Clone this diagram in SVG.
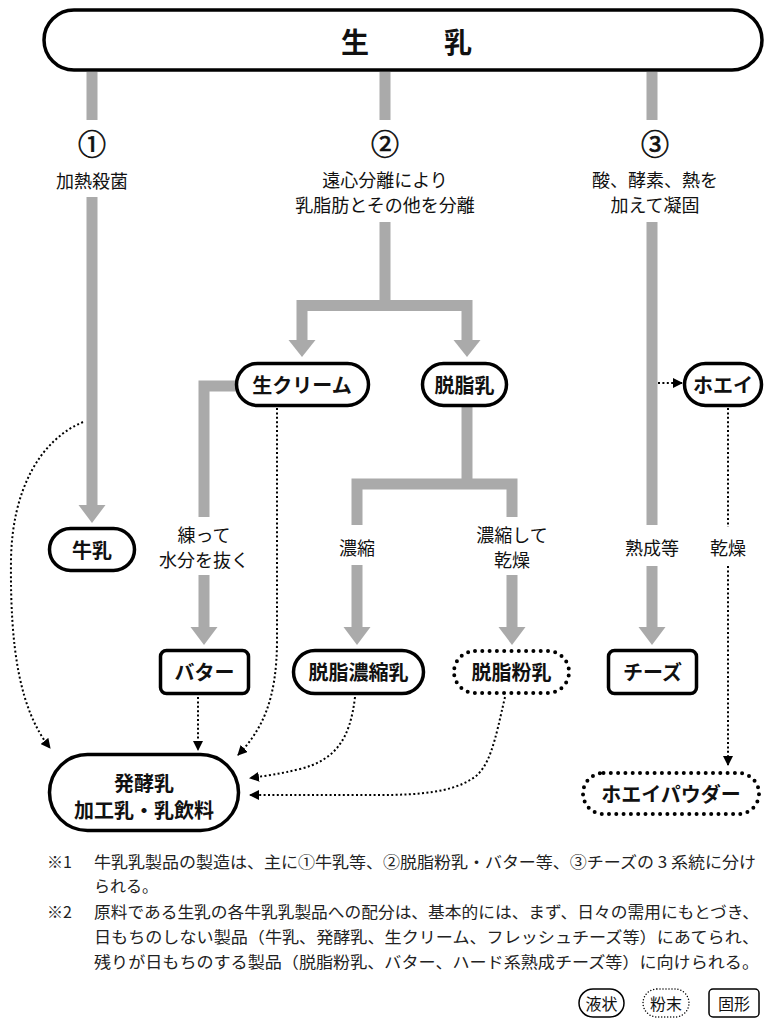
<svg xmlns="http://www.w3.org/2000/svg" width="769" height="1019" viewBox="0 0 769 1019">
<style>
text{font-family:"Noto Sans CJK JP","Noto Sans CJK SC",sans-serif;fill:#111;text-anchor:middle;dominant-baseline:central}
.lbl{font-size:18px}
.num{font-size:28px;stroke:#111;stroke-width:0.7}
.nt{font-size:20px;font-weight:bold}
.gray{fill:none;stroke:#aaaaaa;stroke-width:11;stroke-linecap:butt;stroke-linejoin:miter}
.gh{fill:#aaaaaa}
.node{fill:#fff;stroke:#000;stroke-width:3.5}
.dnode{fill:#fff;stroke:#000;stroke-width:4;stroke-dasharray:0 7.3;stroke-linecap:round}
.dot{fill:none;stroke:#000;stroke-width:2;stroke-dasharray:2 2.4}
.fn{font-size:16px;text-anchor:start;fill:#222}
.lg{font-size:16px}
</style>
<defs>
<marker id="ah" viewBox="0 0 10 10" refX="9" refY="5" markerWidth="10" markerHeight="10" markerUnits="userSpaceOnUse" orient="auto">
<path d="M0,0 L10,5 L0,10 Z" fill="#000"/>
</marker>
</defs>

<g id="connectors">
<path class="gray" d="M92,72 V120 M92,197 V506"/>
<polygon class="gh" points="78.5,505 105.5,505 92,523"/>
<path class="gray" d="M385,72 V120 M385,222 V305"/>
<path class="gray" d="M302,341 V305.5 H467 V341"/>
<polygon class="gh" points="288.5,340 315.5,340 302,357"/>
<polygon class="gh" points="453.5,340 480.5,340 467,357"/>
<path class="gray" d="M652,72 V120 M652,222 V525 M652,566 V628"/>
<polygon class="gh" points="638.5,627 665.5,627 652,645"/>
<path class="gray" d="M240,386 H204 V517 M204,575 V628"/>
<polygon class="gh" points="190.5,627 217.5,627 204,645"/>
<path class="gray" d="M467,405 V484"/>
<path class="gray" d="M357,525 V484 H512 V517"/>
<path class="gray" d="M357,565 V628 M512,575 V628"/>
<polygon class="gh" points="343.5,627 370.5,627 357,645"/>
<polygon class="gh" points="498.5,627 525.5,627 512,645"/>

<path class="dot" d="M83,422 C40,440 12,490 11,560 C10,650 20,710 50,748" marker-end="url(#ah)"/>
<path class="dot" d="M277,408 L277,640 C277,700 262,730 238,755" marker-end="url(#ah)"/>
<path class="dot" d="M198,697 L198,750" marker-end="url(#ah)"/>
<path class="dot" d="M355,697 C350,740 335,760 300,769 C280,774 265,776 250,778" marker-end="url(#ah)"/>
<path class="dot" d="M505,697 C495,740 490,770 470,780 C450,792 420,795 380,795 L250,795" marker-end="url(#ah)"/>
<path class="dot" d="M658,383 L682,383" marker-end="url(#ah)"/>
<path class="dot" d="M728,408 V527"/>
<path class="dot" d="M728,566 V765" marker-end="url(#ah)"/>
</g>

<g id="n-raw">
<rect class="node" x="44" y="10" width="718" height="60" rx="30" stroke-width="5"/>
<text font-size="28" font-weight="bold"><tspan x="355" y="41">生</tspan><tspan x="458" y="41">乳</tspan></text>
</g>

<g id="labels">
<text class="num" x="92" y="143">①</text>
<text class="lbl" x="92" y="180">加熱殺菌</text>
<text class="num" x="385" y="143">②</text>
<text class="lbl" x="385" y="179">遠心分離により</text>
<text class="lbl" x="385" y="204">乳脂肪とその他を分離</text>
<text class="num" x="655" y="143">③</text>
<text class="lbl" x="655" y="179">酸、酵素、熱を</text>
<text class="lbl" x="655" y="204">加えて凝固</text>
<text class="lbl" x="204" y="534">練って</text>
<text class="lbl" x="204" y="559">水分を抜く</text>
<text class="lbl" x="357" y="547">濃縮</text>
<text class="lbl" x="512" y="534">濃縮して</text>
<text class="lbl" x="512" y="559">乾燥</text>
<text class="lbl" x="652" y="547">熟成等</text>
<text class="lbl" x="728" y="547">乾燥</text>
</g>

<g id="n-gyunyu"><rect class="node" x="49.5" y="528.5" width="85" height="42" rx="21"/><text class="nt" x="92" y="549">牛乳</text></g>
<g id="n-cream"><rect class="node" x="236.5" y="363.5" width="132" height="42" rx="21"/><text class="nt" x="302" y="384">生クリーム</text></g>
<g id="n-dasshi"><rect class="node" x="422.5" y="363.5" width="84" height="42" rx="21"/><text class="nt" x="464.5" y="384">脱脂乳</text></g>
<g id="n-whey"><rect class="node" x="684.5" y="363.5" width="77" height="42" rx="21"/><text class="nt" x="723" y="384">ホエイ</text></g>
<g id="n-butter"><rect class="node" x="160.5" y="650.5" width="88" height="43" rx="6"/><text class="nt" x="204.5" y="671">バター</text></g>
<g id="n-condensed"><rect class="node" x="293.5" y="650.5" width="130" height="43" rx="21.5"/><text class="nt" x="358.5" y="671">脱脂濃縮乳</text></g>
<g id="n-powder"><rect class="dnode" x="454" y="651" width="115" height="42" rx="21"/><text class="nt" x="511.5" y="671">脱脂粉乳</text></g>
<g id="n-cheese"><rect class="node" x="608.5" y="650.5" width="88" height="43" rx="6"/><text class="nt" x="652.5" y="671">チーズ</text></g>
<g id="n-ferm"><rect class="node" x="49.5" y="754.5" width="189" height="76" rx="38"/><text class="nt" x="144" y="782">発酵乳</text><text class="nt" x="144" y="809">加工乳・乳飲料</text></g>
<g id="n-wheypowder"><rect class="dnode" x="583" y="773" width="176" height="41" rx="20.5"/><text class="nt" x="671" y="793">ホエイパウダー</text></g>

<g id="notes">
<text class="fn" x="47" y="861">※1</text>
<text class="fn" x="94" y="861" textLength="662" lengthAdjust="spacingAndGlyphs">牛乳乳製品の製造は、主に①牛乳等、②脱脂粉乳・バター等、③チーズの 3 系統に分け</text>
<text class="fn" x="94" y="885">られる。</text>
<text class="fn" x="47" y="911">※2</text>
<text class="fn" x="94" y="911" textLength="665" lengthAdjust="spacingAndGlyphs">原料である生乳の各牛乳乳製品への配分は、基本的には、まず、日々の需用にもとづき、</text>
<text class="fn" x="94" y="936" textLength="665" lengthAdjust="spacingAndGlyphs">日もちのしない製品（牛乳、発酵乳、生クリーム、フレッシュチーズ等）にあてられ、</text>
<text class="fn" x="94" y="961" textLength="665" lengthAdjust="spacingAndGlyphs">残りが日もちのする製品（脱脂粉乳、バター、ハード系熟成チーズ等）に向けられる。</text>
</g>

<g id="legend">
<rect x="579" y="989" width="45" height="28" rx="14" fill="#fff" stroke="#000" stroke-width="1.5"/>
<text class="lg" x="601.5" y="1003">液状</text>
<rect x="643" y="989" width="46" height="28" rx="14" fill="#fff" stroke="#000" stroke-width="1.5" stroke-dasharray="0 3" stroke-linecap="round"/>
<text class="lg" x="666" y="1003">粉末</text>
<rect x="709" y="989" width="50" height="28" rx="4" fill="#fff" stroke="#000" stroke-width="1.5"/>
<text class="lg" x="734" y="1003">固形</text>
</g>
</svg>
